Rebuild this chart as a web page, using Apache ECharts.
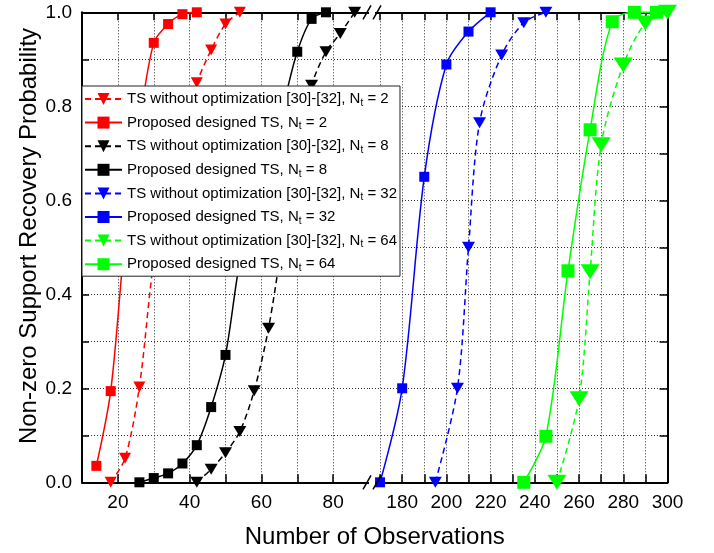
<!DOCTYPE html>
<html><head><meta charset="utf-8">
<script src="https://cdn.jsdelivr.net/npm/echarts@6/dist/echarts.min.js"></script>
<style>html,body{margin:0;padding:0;background:#fff}#c{width:714px;height:553px}</style>
</head><body><div id="c"></div>
<script>
// ---- data ----
const xTsN2 = [18, 22, 26, 30, 34, 38, 42, 46, 50, 54];
const yTsN2 = [0, 0.051, 0.203, 0.47, 0.62, 0.75, 0.85, 0.92, 0.975, 1.0];
const xPrN2 = [14, 18, 22, 26, 30, 34, 38, 42];
const yPrN2 = [0.035, 0.194, 0.52, 0.76, 0.935, 0.975, 0.996, 1.0];
const xTsN8 = [42, 46, 50, 54, 58, 62, 66, 70, 74, 78, 82, 86];
const yTsN8 = [0, 0.028, 0.063, 0.108, 0.195, 0.328, 0.52, 0.72, 0.845, 0.916, 0.955, 1.0];
const xPrN8 = [26, 30, 34, 38, 42, 46, 50, 54, 58, 62, 66, 70, 74, 78];
const yPrN8 = [0, 0.009, 0.019, 0.04, 0.079, 0.16, 0.271, 0.47, 0.59, 0.70, 0.80, 0.916, 0.986, 1.0];
const xTsN32 = [195, 205, 210, 215, 225, 235, 245];
const yTsN32 = [0, 0.2, 0.5, 0.765, 0.909, 0.978, 1.0];
const xPrN32 = [170, 180, 190, 200, 210, 220];
const yPrN32 = [0, 0.2, 0.65, 0.889, 0.959, 1.0];
const xTsN64 = [250, 260, 265, 270, 280, 290, 300];
const yTsN64 = [0, 0.178, 0.448, 0.718, 0.888, 0.977, 1.0];
const xPrN64 = [235, 245, 255, 265, 275, 285, 295];
const yPrN64 = [0, 0.098, 0.45, 0.75, 0.98, 1.0, 1.0];

const leftTicks = [20, 30, 40, 50, 60, 70, 80];
const leftLabels = [20, 40, 60, 80];
const rightTicks = [170, 180, 190, 200, 210, 220, 230, 240, 250, 260, 270, 280, 290, 300];
const rightLabels = [180, 200, 220, 240, 260, 280, 300];

const FONT = 'Liberation Sans, Arial, sans-serif';
const chart = echarts.init(document.getElementById('c'), null, {renderer: 'canvas'});

const gridLine = {show: true, lineStyle: {color: '#333', width: 1, type: [1, 2]}};
const axLine = {show: true, onZero: false, lineStyle: {color: '#000', width: 2}};
const tick = (vals) => ({show: true, inside: true, length: 8, customValues: vals, lineStyle: {color: '#000', width: 1.5}});

function mk(name, xs, ys, color, dashed, symbol, size, right) {
  return {
    type: 'line', name,
    xAxisIndex: right ? 2 : 0, yAxisIndex: right ? 1 : 0,
    data: xs.map((x, i) => [x, ys[i]]),
    smooth: 0.3, clip: false,
    symbol: symbol === 'tri' ? 'triangle' : 'rect',
    symbolRotate: symbol === 'tri' ? 180 : 0,
    symbolSize: size, showSymbol: true,
    itemStyle: {color: color},
    lineStyle: {color: color, width: 1.5, type: dashed ? [6, 4] : 'solid'},
    z: 3
  };
}

const series = [
  mk('TS without optimization [30]-[32], Nt = 2', xTsN2, yTsN2, '#ff0000', true, 'tri', [12, 11], false),
  mk('Proposed designed TS, Nt = 2', xPrN2, yPrN2, '#ff0000', false, 'sq', 10, false),
  mk('TS without optimization [30]-[32], Nt = 8', xTsN8, yTsN8, '#000000', true, 'tri', [13, 11], false),
  mk('Proposed designed TS, Nt = 8', xPrN8, yPrN8, '#000000', false, 'sq', 10, false),
  mk('TS without optimization [30]-[32], Nt = 32', xTsN32, yTsN32, '#0000ff', true, 'tri', [13, 11], true),
  mk('Proposed designed TS, Nt = 32', xPrN32, yPrN32, '#0000ff', false, 'sq', 10, true),
  mk('TS without optimization [30]-[32], Nt = 64', xTsN64, yTsN64, '#00ff00', true, 'tri', [19, 15], true),
  mk('Proposed designed TS, Nt = 64', xPrN64, yPrN64, '#00ff00', false, 'sq', 13, true)
];

const option = {
  animation: false,
  backgroundColor: '#fff',
  grid: [
    {left: 82, top: 12.3, width: 287, height: 470},
    {left: 369, top: 12.3, width: 298.5, height: 470}
  ],
  xAxis: [
    {type: 'value', gridIndex: 0, position: 'bottom', min: 10, max: 90,
     axisLine: axLine, axisTick: tick(leftTicks), splitLine: gridLine,
     axisLabel: {customValues: leftLabels, fontSize: 19, fontFamily: FONT, color: '#000', margin: 11}},
    {type: 'value', gridIndex: 0, position: 'top', min: 10, max: 90,
     axisLine: axLine, axisTick: tick(leftTicks), splitLine: {show: false}, axisLabel: {show: false}},
    {type: 'value', gridIndex: 1, position: 'bottom', min: 165, max: 300,
     axisLine: axLine, axisTick: tick(rightTicks), splitLine: gridLine,
     axisLabel: {customValues: rightLabels, fontSize: 19, fontFamily: FONT, color: '#000', margin: 11}},
    {type: 'value', gridIndex: 1, position: 'top', min: 165, max: 300,
     axisLine: axLine, axisTick: tick(rightTicks), splitLine: {show: false}, axisLabel: {show: false}}
  ],
  yAxis: [
    {type: 'value', gridIndex: 0, position: 'left', min: 0, max: 1, interval: 0.1,
     axisLine: axLine, axisTick: {show: true, inside: true, length: 7, lineStyle: {color: '#000', width: 1.5}},
     splitLine: gridLine,
     axisLabel: {fontSize: 19, fontFamily: FONT, color: '#000', margin: 10,
       formatter: v => (Math.round(v * 10) % 2 === 0 ? v.toFixed(1) : '')}},
    {type: 'value', gridIndex: 1, position: 'left', min: 0, max: 1, interval: 0.1,
     axisLine: {show: false}, axisTick: {show: false}, axisLabel: {show: false}, splitLine: gridLine},
    {type: 'value', gridIndex: 1, position: 'right', min: 0, max: 1, interval: 0.1,
     axisLine: axLine, axisTick: {show: true, inside: true, length: 8, lineStyle: {color: '#000', width: 1.5}},
     axisLabel: {show: false}, splitLine: {show: false}}
  ],
  legend: {
    orient: 'vertical', left: 82, top: 86,
    padding: [4, 3, 3, 2], itemGap: 5.6, itemWidth: 37, itemHeight: 15,
    backgroundColor: '#fff', borderColor: '#222', borderWidth: 1,
    data: series.map(s => s.name),
    formatter: n => n.replace('Nt', 'N{sub|t}'),
    textStyle: {fontSize: 15, fontFamily: FONT, color: '#000', lineHeight: 18,
      rich: {sub: {fontSize: 10, fontFamily: FONT, color: '#000', verticalAlign: 'bottom', lineHeight: 18}}},
    z: 10
  },
  series: series
};
chart.setOption(option);

// axis titles and break marks
const xb = chart.convertToPixel({xAxisIndex: 0}, 90);
const yTop = chart.convertToPixel({yAxisIndex: 0}, 1);
const yBot = chart.convertToPixel({yAxisIndex: 0}, 0);
const xL = chart.convertToPixel({xAxisIndex: 0}, 10);
const xR = chart.convertToPixel({xAxisIndex: 2}, 300);
function slashes(y) {
  const out = [{type: 'rect', shape: {x: xb, y: y - 2, width: 6, height: 4}, style: {fill: '#fff'}, z: 5}];
  [xb - 2, xb + 8].forEach(cx => out.push({type: 'line', shape: {x1: cx - 4, y1: y + 7, x2: cx + 4, y2: y - 7},
    style: {stroke: '#000', lineWidth: 1.5}, z: 6}));
  return out;
}
chart.setOption({
  graphic: [
    {type: 'text', x: (xL + xR) / 2, y: 537, style: {text: 'Number of Observations', font: '24px ' + FONT,
      fill: '#000', textAlign: 'center', textVerticalAlign: 'middle'}},
    {type: 'text', x: 29, y: 236, rotation: Math.PI / 2, style: {text: 'Non-zero Support Recovery Probability',
      font: '24px ' + FONT, fill: '#000', textAlign: 'center', textVerticalAlign: 'middle'}}
  ].concat(slashes(yTop), slashes(yBot))
});
</script>
</body></html>
